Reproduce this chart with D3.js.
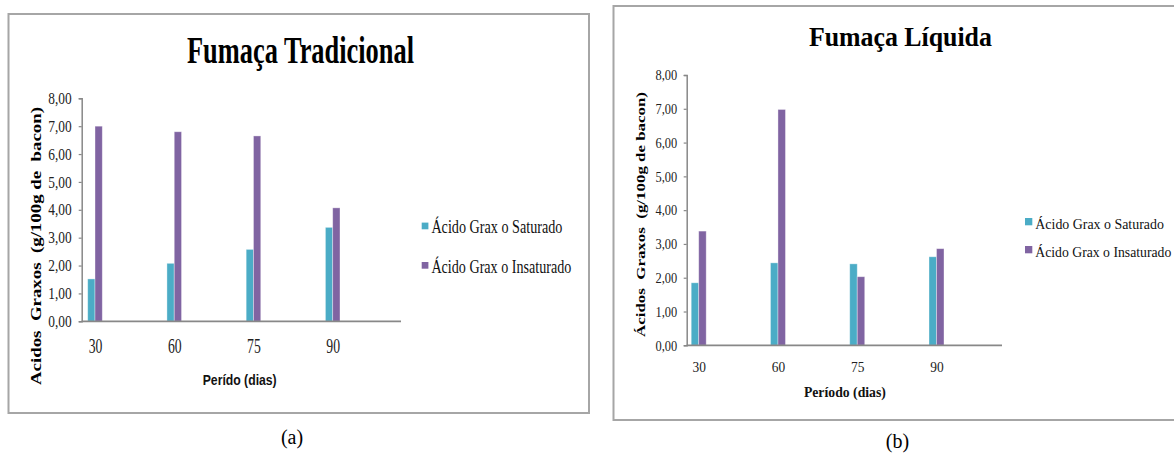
<!DOCTYPE html>
<html>
<head>
<meta charset="utf-8">
<script src="https://cdn.jsdelivr.net/npm/d3@7"></script>
<style>
  html, body { margin: 0; padding: 0; background: #fff; }
  svg { display: block; }
  text { white-space: pre; }
</style>
</head>
<body>
<svg id="chart" width="1174" height="453"></svg>
<script>
// ---------- data ----------
const categories = ["30", "60", "75", "90"];
const seriesNames = ["Ácido Grax o Saturado", "Ácido Grax o Insaturado"];
const tradSaturado   = [1.52, 2.08, 2.58, 3.37];
const tradInsaturado = [7.00, 6.80, 6.65, 4.07];
const liqSaturado    = [1.85, 2.44, 2.41, 2.62];
const liqInsaturado  = [3.38, 6.98, 2.03, 2.86];
const yTicks = [0, 1, 2, 3, 4, 5, 6, 7, 8];

// ---------- styles ----------
const colors = ["#4BACC6", "#8064A2"];
const serif = "'Liberation Serif', 'Times New Roman', serif";
const sans = "'Liberation Sans', Arial, sans-serif";
const fmt = d3.formatLocale({decimal: ",", thousands: ".", grouping: [3], currency: ["", ""]}).format(".2f");

const svg = d3.select("#chart");

function panel(cfg) {
  const g = svg.append("g");
  // frame
  g.append("rect")
    .attr("x", cfg.frame[0]).attr("y", cfg.frame[1])
    .attr("width", cfg.frame[2]).attr("height", cfg.frame[3])
    .attr("fill", "#fff").attr("stroke", "#a6a6a6").attr("stroke-width", 2);

  const y = d3.scaleLinear().domain([0, 8]).range([cfg.yBottom, cfg.yTop]);
  const x = d3.scalePoint().domain(categories).range([cfg.firstCenter, cfg.lastCenter]);
  const xs = d3.scaleBand().domain(seriesNames).range([-cfg.barW, cfg.barW]);

  // bars
  const data = [];
  categories.forEach((c, i) => {
    data.push({c, s: seriesNames[0], v: cfg.sat[i], k: 0});
    data.push({c, s: seriesNames[1], v: cfg.insat[i], k: 1});
  });
  g.append("g").selectAll("rect").data(data).join("rect")
    .attr("x", d => x(d.c) + xs(d.s))
    .attr("width", xs.bandwidth())
    .attr("y", d => y(d.v))
    .attr("height", d => y(0) - y(d.v))
    .attr("fill", d => colors[d.k])
    .attr("stroke", "#ffffff").attr("stroke-opacity", 0.45).attr("stroke-width", 0.8);

  // y axis
  const ya = g.append("g").attr("transform", `translate(${cfg.axisX},0)`)
    .call(d3.axisLeft(y).tickValues(yTicks).tickFormat(fmt).tickSize(3).tickSizeOuter(3).tickPadding(cfg.yPad));
  ya.select(".domain").attr("stroke", "#888").attr("stroke-width", 1.5);
  ya.selectAll(".tick line").attr("stroke", "#888").attr("stroke-width", 1.2);
  ya.selectAll(".tick text")
    .attr("font-family", serif).attr("font-size", cfg.yTickSize).attr("fill", "#222")
    .attr("dy", "0.32em")
    .attr("textLength", cfg.yTickLen).attr("lengthAdjust", "spacingAndGlyphs");

  // x axis line
  g.append("line")
    .attr("x1", cfg.axisX).attr("x2", cfg.axisEnd)
    .attr("y1", y(0)).attr("y2", y(0))
    .attr("stroke", "#888").attr("stroke-width", 1.8);

  const xa = g.append("g").attr("transform", `translate(0,${cfg.xLabelBase})`)
    .call(d3.axisBottom(x).tickSize(0).tickPadding(0));
  xa.select(".domain").remove();
  xa.selectAll(".tick text")
    .attr("y", 0).attr("dy", 0)
    .attr("font-family", serif).attr("font-size", cfg.xTickSize).attr("fill", "#222")
    .attr("textLength", cfg.xTickLen).attr("lengthAdjust", "spacingAndGlyphs");

  // title
  g.append("text")
    .attr("x", cfg.titlePos[0]).attr("y", cfg.titlePos[1])
    .attr("text-anchor", "middle").attr("font-family", serif).attr("font-weight", "bold")
    .attr("font-size", cfg.titleSize).attr("fill", "#000")
    .attr("textLength", cfg.titleLen).attr("lengthAdjust", "spacingAndGlyphs")
    .text(cfg.title);

  // y title
  g.append("text")
    .attr("transform", `translate(${cfg.yTitlePos[0]},${cfg.yTitlePos[1]}) rotate(-90)`)
    .attr("text-anchor", "middle").attr("dy", "0.35em")
    .attr("font-family", serif).attr("font-weight", "bold").attr("font-size", cfg.yTitleSize).attr("fill", "#000")
    .attr("textLength", cfg.yTitleLen).attr("lengthAdjust", "spacingAndGlyphs")
    .text(cfg.yTitle);

  // x title
  g.append("text")
    .attr("x", cfg.xTitlePos[0]).attr("y", cfg.xTitlePos[1])
    .attr("text-anchor", "middle").attr("font-family", cfg.xTitleFont).attr("font-weight", "bold")
    .attr("font-size", 15).attr("fill", "#111")
    .attr("textLength", cfg.xTitleLen).attr("lengthAdjust", "spacingAndGlyphs")
    .text(cfg.xTitle);

  // legend
  const lg = g.append("g");
  seriesNames.forEach((s, i) => {
    lg.append("rect")
      .attr("x", cfg.legX).attr("y", cfg.legY[i] - cfg.legSq - 4)
      .attr("width", cfg.legSq).attr("height", cfg.legSq)
      .attr("fill", colors[i]);
    lg.append("text")
      .attr("x", cfg.legX + cfg.legSq + 3).attr("y", cfg.legY[i])
      .attr("font-family", serif).attr("font-size", cfg.legSize).attr("fill", "#111")
      .attr("textLength", cfg.legLen[i]).attr("lengthAdjust", "spacingAndGlyphs")
      .text(s);
  });

  // caption
  svg.append("text")
    .attr("x", cfg.capPos[0]).attr("y", cfg.capPos[1])
    .attr("text-anchor", "middle").attr("font-family", serif).attr("font-size", 20).attr("fill", "#000")
    .text(cfg.caption);
}

panel({
  frame: [8.5, 14, 580.5, 399],
  sat: tradSaturado, insat: tradInsaturado,
  yBottom: 321.3, yTop: 98.3, axisX: 81.7, axisEnd: 401,
  firstCenter: 95, lastCenter: 332.7, barW: 7.3,
  yPad: 7, yTickSize: 16, yTickLen: 23.4,
  xLabelBase: 353, xTickSize: 21, xTickLen: 13.7,
  title: "Fumaça Tradicional", titlePos: [300.5, 62.7], titleSize: 38, titleLen: 227,
  yTitle: "Acidos  Graxos  (g/100g de  bacon)", yTitlePos: [36.5, 246], yTitleSize: 14, yTitleLen: 278,
  xTitle: "Perído (dias)", xTitlePos: [239.7, 385], xTitleLen: 74, xTitleFont: sans,
  legX: 421.7, legY: [233.3, 272.7], legSq: 6.7, legSize: 18, legLen: [131, 140],
  caption: "(a)", capPos: [292, 444]
});

panel({
  frame: [613.5, 6, 570, 414],
  sat: liqSaturado, insat: liqInsaturado,
  yBottom: 345.3, yTop: 75, axisX: 686.7, axisEnd: 1002,
  firstCenter: 698.7, lastCenter: 936.5, barW: 7.5,
  yPad: 6.5, yTickSize: 15, yTickLen: 21.7,
  xLabelBase: 372, xTickSize: 15, xTickLen: 13.4,
  title: "Fumaça Líquida", titlePos: [900.4, 45.7], titleSize: 28, titleLen: 183,
  yTitle: "Ácidos  Graxos  (g/100g de bacon)", yTitlePos: [640, 214.5], yTitleSize: 13, yTitleLen: 245,
  xTitle: "Período (dias)", xTitlePos: [844.9, 397], xTitleLen: 82, xTitleFont: serif,
  legX: 1025, legY: [229.3, 257.3], legSq: 7.3, legSize: 14, legLen: [128.6, 136],
  caption: "(b)", capPos: [897.5, 448]
});
</script>
</body>
</html>
